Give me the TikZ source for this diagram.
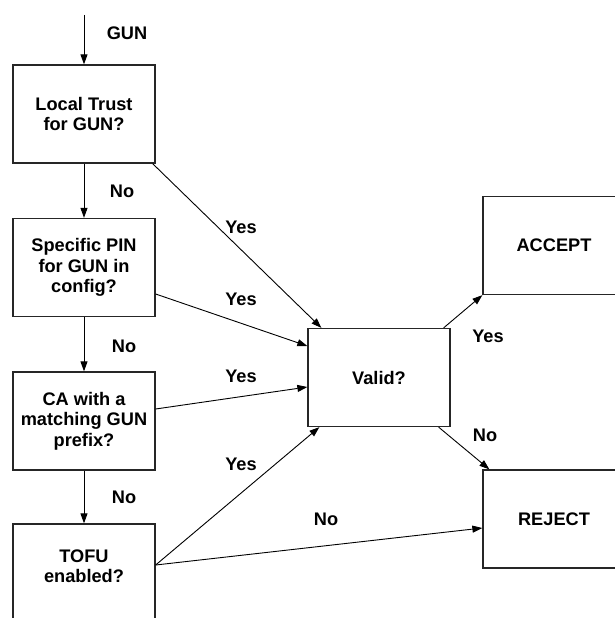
\documentclass[tikz,border=0pt]{standalone}
\usepackage{fontspec}
\setmainfont{Liberation Sans}
\usetikzlibrary{arrows.meta,calc}
\begin{document}
\begin{tikzpicture}[x=1pt,y=-1pt,
  every node/.style={font=\bfseries\fontsize{18.2}{20.5}\selectfont},
  box/.style={draw=black!85,line width=1.3pt,rectangle,minimum width=142pt,minimum height=98pt,inner sep=0pt,align=center},
  arr/.style={draw=black,line width=0.9pt,-{Triangle[length=10pt,width=7pt]}},
  lbl/.style={inner sep=0pt}]
\useasboundingbox (0,0) rectangle (615,618);
\clip (0,0) rectangle (615,618);
% boxes
\node[box] (b1) at (84,114) {Local Trust\\for GUN?};
\node[box] (b2) at (84,267.5) {Specific PIN\\for GUN in\\config?};
\node[box] (b3) at (84,421) {CA with a\\matching GUN\\prefix?};
\node[box] (b4) at (84,573) {};
\node[lbl,align=center] (t4) at (84,566) {TOFU\\enabled?};
\node[box] (valid) at (379,377.5) {Valid?};
\node[box] (acc) at (554,245.5) {ACCEPT};
\node[box] (rej) at (554,519) {REJECT};
% entry
\coordinate (start) at (84,15);
\draw[arr] (start) -- (b1.north);
\node[lbl] (lgun) at (127,33) {GUN};
% vertical chain
\draw[arr] (b1.south) -- (b2.north);
\draw[arr] (b2.south) -- (b3.north);
\draw[arr] (b3.south) -- (b4.north);
\node[lbl] (ln1) at (122,191) {No};
\node[lbl] (ln2) at (124,346) {No};
\node[lbl] (ln3) at (124,497) {No};
% to valid
\draw[arr] ($(b1.south east)+(-3,0)$) -- ($(valid.north west)+(14,0)$);
\draw[arr] ($(b2.east)+(0,26.5)$) -- ($(valid.west)+(0,-31.5)$);
\draw[arr] ($(b3.east)+(0,-12)$) -- ($(valid.west)+(0,9.5)$);
\draw[arr] ($(b4.east)+(0,-8)$) -- ($(valid.south west)+(12,0)$);
\draw[arr] ($(b4.east)+(0,-8)$) -- ($(rej.west)+(0,9)$);
\node[lbl] (ly1) at (241,227) {Yes};
\node[lbl] (ly2) at (241,299) {Yes};
\node[lbl] (ly3) at (241,376) {Yes};
\node[lbl] (ly4) at (241,464) {Yes};
\node[lbl] (ln4) at (326,519) {No};
% valid outputs
\draw[arr] ($(valid.north east)+(-7,0)$) -- (acc.south west);
\draw[arr] ($(valid.south east)+(-12,0)$) -- ($(rej.north west)+(7,0)$);
\node[lbl] (ly5) at (488,336) {Yes};
\node[lbl] (ln5) at (485,435) {No};
\end{tikzpicture}
\end{document}
